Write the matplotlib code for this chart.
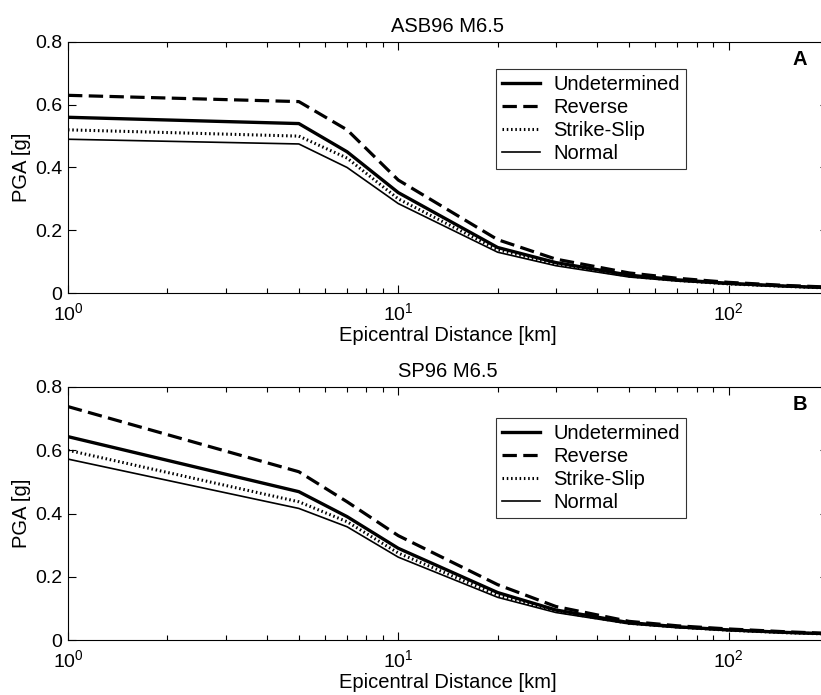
import matplotlib
matplotlib.use('Agg')
import matplotlib.pyplot as plt
from matplotlib.ticker import LogLocator, NullFormatter

plt.rcParams['font.family'] = ['Liberation Sans', 'DejaVu Sans']
plt.rcParams['font.size'] = 14.5
plt.rcParams['mathtext.fontset'] = 'custom'
plt.rcParams['mathtext.rm'] = 'Liberation Sans'

# distances [km]
dist = [1, 5, 7, 10, 20, 30, 50, 70, 100, 150, 200]

# panel A : ASB96 M6.5
asb_undet = [0.56, 0.54, 0.45, 0.32, 0.145, 0.097, 0.057, 0.042, 0.031, 0.022, 0.017]
asb_rev = [0.63, 0.61, 0.52, 0.36, 0.17, 0.108, 0.064, 0.047, 0.034, 0.024, 0.019]
asb_ss = [0.52, 0.50, 0.43, 0.30, 0.138, 0.092, 0.054, 0.040, 0.029, 0.021, 0.016]
asb_norm = [0.49, 0.475, 0.40, 0.285, 0.13, 0.087, 0.051, 0.038, 0.028, 0.020, 0.015]

# panel B : SP96 M6.5
sp_undet = [0.643, 0.469, 0.39, 0.29, 0.15, 0.095, 0.055, 0.042, 0.032, 0.024, 0.02]
sp_rev = [0.738, 0.532, 0.437, 0.33, 0.175, 0.106, 0.059, 0.045, 0.035, 0.026, 0.021]
sp_ss = [0.60, 0.437, 0.374, 0.275, 0.142, 0.091, 0.053, 0.041, 0.031, 0.023, 0.019]
sp_norm = [0.572, 0.416, 0.358, 0.262, 0.135, 0.087, 0.051, 0.039, 0.030, 0.022, 0.018]

labels = ['Undetermined', 'Reverse', 'Strike-Slip', 'Normal']
styles = [dict(ls='-', lw=2.4), dict(ls=(0, (4.5, 2.0)), lw=2.3),
          dict(ls=(0, (0.5, 0.9)), lw=2.2), dict(ls='-', lw=1.2)]

# title, letter, series, axes rect, legend anchor
panels = [
    ('ASB96 M6.5', 'A', [asb_undet, asb_rev, asb_ss, asb_norm],
     [0.0828, 0.5784, 0.9257, 0.3612], (0.563, 0.892)),
    ('SP96 M6.5', 'B', [sp_undet, sp_rev, sp_ss, sp_norm],
     [0.0828, 0.0791, 0.9257, 0.3641], (0.563, 0.877)),
]

fig = plt.figure(figsize=(8.21, 6.95), dpi=100)

for title, letter, series, pos, anchor in panels:
    ax = fig.add_axes(pos)
    for y, lab, st in zip(series, labels, styles):
        ax.plot(dist, y, color='black', label=lab, **st)
    ax.set_xscale('log')
    ax.set_xlim(1, 200)
    ax.set_ylim(0, 0.8)
    ax.set_yticks([0, 0.2, 0.4, 0.6, 0.8])
    ax.set_yticklabels(['0', '0.2', '0.4', '0.6', '0.8'])
    ax.xaxis.set_major_locator(LogLocator(base=10, numticks=10))
    ax.xaxis.set_minor_locator(LogLocator(base=10, subs=range(2, 10), numticks=20))
    ax.xaxis.set_minor_formatter(NullFormatter())
    ax.tick_params(which='both', direction='in', top=True, right=True, labelsize=14)
    ax.tick_params(which='major', length=6, width=0.8)
    ax.tick_params(which='minor', length=3.5, width=0.8)
    ax.tick_params(axis='x', pad=6.5)
    ax.tick_params(axis='y', pad=4)
    for sp in ax.spines.values():
        sp.set_linewidth(0.8)
    ax.set_title(title, fontsize=14.5, pad=7)
    ax.set_xlabel('Epicentral Distance [km]', labelpad=1.5)
    ax.set_ylabel('PGA [g]', labelpad=3)
    ax.text(0.972, 0.93, letter, transform=ax.transAxes, fontweight='bold',
            ha='right', va='center', fontsize=14.5)
    leg = ax.legend(loc='upper left', bbox_to_anchor=anchor, frameon=True,
                    fancybox=False, edgecolor='black', handlelength=1.9,
                    handletextpad=0.65, borderpad=0.3, labelspacing=0.19,
                    borderaxespad=0, fontsize=14.5)
    leg.get_frame().set_linewidth(0.8)

fig.savefig('out.png', dpi=100)
